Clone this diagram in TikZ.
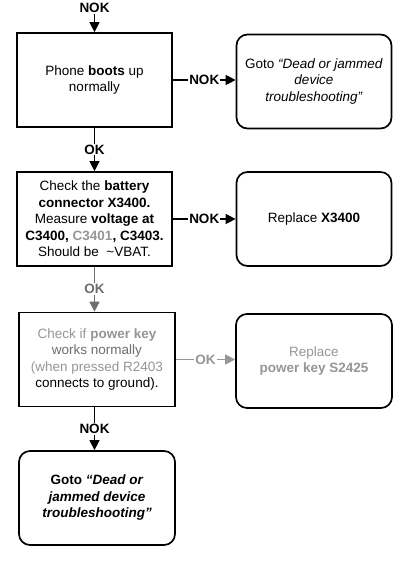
\documentclass[tikz,border=0pt]{standalone}
\usepackage{fontspec}
\setmainfont{Liberation Sans}
\usetikzlibrary{arrows.meta}
\definecolor{fadegray}{RGB}{150,150,150}
\definecolor{midgray}{RGB}{110,110,110}
\begin{document}
\begin{tikzpicture}[x=1pt,y=-1pt,
  every node/.style={font=\fontsize{13.5}{16.5}\selectfont},
  sqbox/.style={draw=black,line width=1.7pt,minimum width=155pt,minimum height=94pt,align=center,inner sep=2pt},
  rbox/.style={sqbox,rounded corners=11pt},
  conn/.style={line width=1.2pt,-{Triangle[length=10pt,width=10pt]}},
  lbl/.style={fill=white,inner sep=1pt,font=\fontsize{13.5}{16.5}\selectfont\bfseries}]
\useasboundingbox[fill=white] (0,0) rectangle (412,563);
\node[lbl] (start) at (94.5,8) {NOK};
\node[sqbox] (b1) at (94.5,80) {Phone \textbf{boots} up\\normally};
\node[rbox] (b2) at (314,81.5) {Goto \textit{“Dead or jammed}\\\textit{device}\\\textit{troubleshooting”}};
\node[sqbox] (b3) at (94.5,219) {Check the \textbf{battery}\\\textbf{connector X3400.}\\Measure \textbf{voltage at}\\\textbf{C3400, \textcolor{fadegray}{C3401}, C3403.}\\Should be \ \textasciitilde VBAT.};
\node[rbox] (b4) at (314,219) {Replace \textbf{X3400}};
\node[sqbox,minimum width=156pt] (b5) at (97,359.5) {\textcolor{fadegray}{Check if \textbf{power key}}\\\textcolor{midgray}{works normally}\\\textcolor{fadegray}{(when pressed R2403}\\connects to ground).};
\node[rbox,minimum width=156pt] (b6) at (314,361) {\textcolor{fadegray}{Replace}\\\textcolor{fadegray}{\textbf{power key S2425}}};
\node[rbox,minimum width=156pt] (b7) at (97,498) {\textbf{Goto \textit{“Dead or}}\\\textbf{\textit{jammed device}}\\\textbf{\textit{troubleshooting”}}};
\draw[conn] (start.south) -- (b1.north);
\draw[conn] (b1.east) -- node[lbl]{NOK} (b2.west |- b1.east);
\draw[conn] (b1.south) -- node[lbl]{OK} (b3.north);
\draw[conn] (b3.east) -- node[lbl]{NOK} (b4.west |- b3.east);
\draw[conn,midgray] (b3.south) -- node[lbl,text=midgray]{OK} (b5.north -| b3.south);
\draw[conn,fadegray] (b5.east) -- node[lbl,text=fadegray]{OK} (b6.west |- b5.east);
\draw[conn] (b5.south -| b3.south) -- node[lbl]{NOK} (b7.north -| b3.south);
\end{tikzpicture}
\end{document}
